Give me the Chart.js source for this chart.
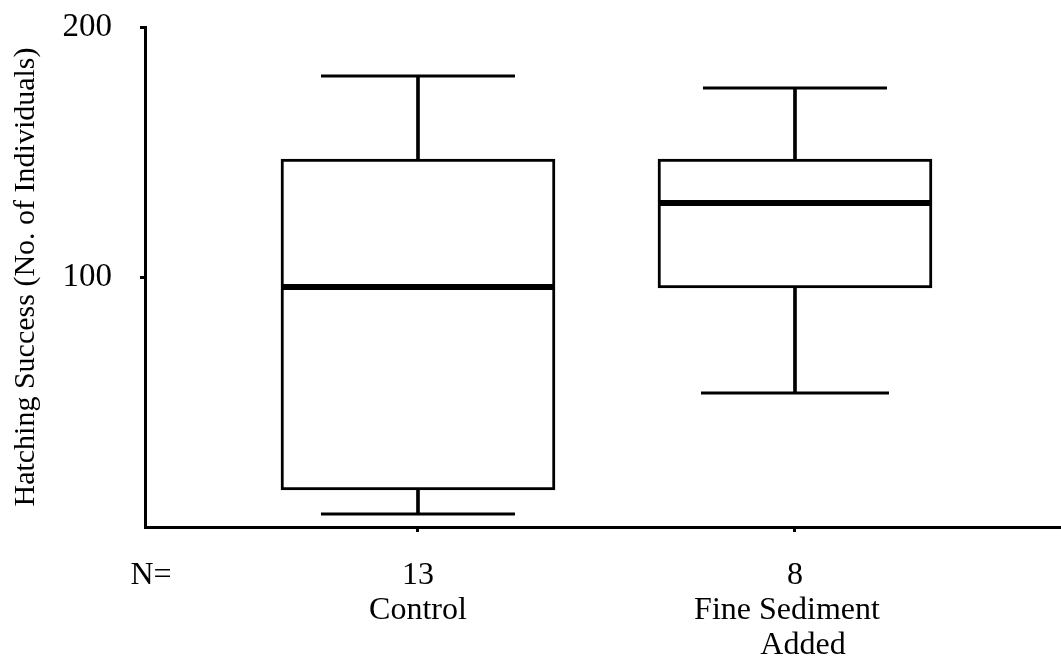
<!DOCTYPE html>
<html>
<head>
<meta charset="utf-8">
<script src="https://cdn.jsdelivr.net/npm/chart.js@4.4.1/dist/chart.umd.min.js"></script>
<style>
  html, body { margin: 0; padding: 0; background: #fff; }
  #wrap { width: 1061px; height: 664px; position: relative; }
</style>
</head>
<body>
<div id="wrap"><canvas id="c" width="1061" height="664"></canvas></div>
<script>
// ---- data ----
const categories = [['Control'], ['Fine Sediment', 'Added']];
const nCounts = [13, 8];
const positions = [1, 2];
const maxVals = [180.4, 175.6];
const q3Vals = [147.2, 147.2];
const medianVals = [96.0, 129.6];
const q1Vals = [14.8, 95.6];
const minVals = [5.2, 53.6];
const yTicks = [100, 200];
const nLabel = 'N=';
const nLabelPos = 0.2918;

const FONT = "'Liberation Serif', 'DejaVu Serif', serif";

const pts = (arr) => arr.map((v, i) => ({ x: positions[i], y: v }));
const rangePts = (lo, hi) => lo.map((v, i) => ({ x: positions[i], y: [v, hi[i]] }));

const tickLabel = (value) => {
  if (Math.abs(value - nLabelPos) < 1e-6) return nLabel;
  const i = positions.indexOf(Math.round(value));
  if (i < 0) return '';
  const lines = categories[i].slice();
  if (lines.length > 1) {
    lines[0] = lines[0] + '  ';
    lines[1] = '  ' + lines[1];
  }
  return [String(nCounts[i]), ...lines];
};

new Chart(document.getElementById('c'), {
  data: {
    datasets: [
      { type: 'bar', label: 'box', data: rangePts(q1Vals, q3Vals), backgroundColor: '#fff',
        borderColor: '#000', borderWidth: 3, borderSkipped: false, barThickness: 274, grouped: false, order: 3 },
      { type: 'bar', label: 'upper whisker', data: rangePts(q3Vals, maxVals), backgroundColor: '#000',
        borderWidth: 0, barThickness: 3, grouped: false, order: 2 },
      { type: 'bar', label: 'lower whisker', data: rangePts(minVals, q1Vals), backgroundColor: '#000',
        borderWidth: 0, barThickness: 3, grouped: false, order: 2 },
      { type: 'line', label: 'median', data: pts(medianVals), showLine: false, pointStyle: 'line',
        pointRadius: 137, pointBorderWidth: 6, pointBorderColor: '#000', order: 1 },
      { type: 'line', label: 'max cap', data: pts(maxVals), showLine: false, pointStyle: 'line',
        pointRadius: [97, 92], pointBorderWidth: 3, pointBorderColor: '#000', order: 1 },
      { type: 'line', label: 'min cap', data: pts(minVals), showLine: false, pointStyle: 'line',
        pointRadius: [97, 94], pointBorderWidth: 3, pointBorderColor: '#000', order: 1 }
    ]
  },
  options: {
    responsive: false,
    animation: false,
    events: [],
    layout: { autoPadding: false, padding: { top: 27, left: 0, right: 0, bottom: 0 } },
    plugins: { legend: { display: false }, tooltip: { enabled: false } },
    scales: {
      x: {
        type: 'linear',
        offset: false,
        min: 0.2759,
        max: 2.7056,
        afterBuildTicks: (s) => { s.ticks = [{ value: nLabelPos }, ...positions.map(v => ({ value: v }))]; },
        afterFit: (s) => { s.height = 137; s.paddingLeft = 0; s.paddingRight = 0; },
        border: { display: true, color: '#000', width: 3 },
        grid: {
          offset: false,
          drawOnChartArea: false, drawTicks: true, tickLength: 5, lineWidth: 3,
          color: (c) => (c.tick && Math.abs(c.tick.value - nLabelPos) < 1e-6) ? 'rgba(0,0,0,0)' : '#000'
        },
        ticks: {
          autoSkip: false, maxRotation: 0, minRotation: 0, padding: 26,
          color: '#000', font: { family: FONT, size: 32, lineHeight: 1.1 },
          callback: (v) => tickLabel(v)
        }
      },
      y: {
        type: 'linear',
        min: 0,
        max: 200,
        afterBuildTicks: (s) => { s.ticks = yTicks.map(v => ({ value: v })); },
        afterFit: (s) => { s.width = 145; s.paddingTop = 0; s.paddingBottom = 0; },
        border: { display: true, color: '#000', width: 3 },
        grid: { drawOnChartArea: false, drawTicks: true, tickLength: 5, lineWidth: 3, color: '#000' },
        ticks: { color: '#000', padding: 28, font: { family: FONT, size: 33 } },
        title: {
          display: true,
          text: 'Hatching Success (No. of Individuals)',
          color: '#000',
          padding: { top: 8, bottom: 0 },
          font: { family: FONT, size: 30 }
        }
      }
    }
  }
});
</script>
</body>
</html>
